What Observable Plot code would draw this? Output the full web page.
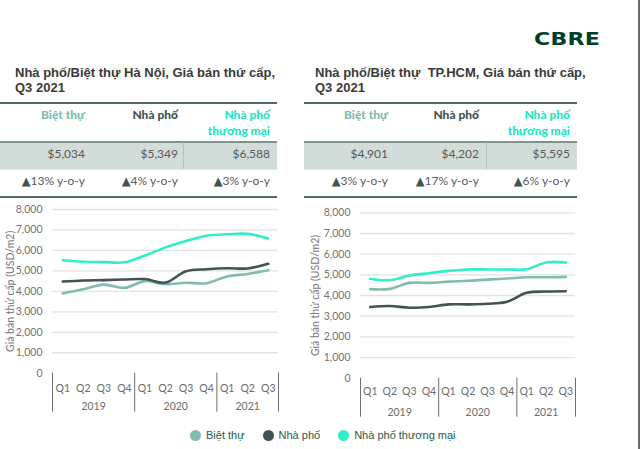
<!DOCTYPE html>
<html><head><meta charset="utf-8">
<script src="https://cdn.jsdelivr.net/npm/d3@7"></script>
<script src="https://cdn.jsdelivr.net/npm/@observablehq/plot@0.6"></script>
<style>
body{margin:0;background:#fff;}
#root{position:relative;width:640px;height:449px;overflow:hidden;background:#fff;font-family:Lato,"Open Sans",sans-serif;}
.abs{position:absolute;}
.title{font-family:"Liberation Sans",Arial,sans-serif;font-weight:bold;font-size:13px;line-height:15px;color:#3a3a3a;white-space:pre;}
.hdr{font-family:Lato,sans-serif;font-weight:900;font-size:12px;line-height:15.5px;text-align:right;width:72px;}
.val{font-family:Lato,sans-serif;font-size:12px;color:#5a5a5a;text-align:right;width:80px;line-height:14px;}
.yoy{font-family:Lato,sans-serif;font-size:12px;color:#5a5a5a;text-align:right;width:80px;line-height:14px;white-space:nowrap;}
.tri{color:#435254;font-family:"DejaVu Sans",sans-serif;font-size:11.5px;}
.legend{font-family:"Liberation Sans",Arial,sans-serif;font-size:11px;color:#245a4c;display:flex;align-items:center;}
.dot{width:11px;height:11px;border-radius:50%;display:inline-block;margin-right:5px;}
</style></head>
<body><div id="root"></div>
<script>
// ---------- data ----------
const seriesNames = ["Biệt thự", "Nhà phố", "Nhà phố thương mại"];
const seriesColors = ["#80bbad", "#435254", "#2eefc8"];
const headerColors = ["#80bbad", "#435254", "#1fe6c0"];
const quarters = ["Q1","Q2","Q3","Q4","Q1","Q2","Q3","Q4","Q1","Q2","Q3"];
const quarterYears = ["2019","2019","2019","2019","2020","2020","2020","2020","2021","2021","2021"];
const yearLabels = ["2019","2020","2021"];
const yTicks = [0,1000,2000,3000,4000,5000,6000,7000,8000];
const axisTitle = "Giá bán thứ cấp (USD/m2)";

const hanoiTitle = ["Nhà phố/Biệt thự Hà Nội, Giá bán thứ cấp,", "Q3 2021"];
const hanoiBietThu = [3900,4100,4330,4170,4500,4350,4420,4400,4730,4850,5034];
const hanoiNhaPho   = [4480,4530,4550,4580,4600,4430,4980,5080,5130,5120,5349];
const hanoiThuongMai= [5520,5450,5430,5420,5750,6150,6460,6720,6790,6810,6588];
const hanoiPrices = ["$5,034","$5,349","$6,588"];
const hanoiYoY = ["13% y-o-y","4% y-o-y","3% y-o-y"];

const hcmTitle = ["Nhà phố/Biệt thự  TP.HCM, Giá bán thứ cấp,", "Q3 2021"];
const hcmBietThu = [4310,4320,4610,4610,4670,4710,4770,4820,4880,4880,4901];
const hcmNhaPho   = [3440,3490,3410,3440,3570,3570,3600,3700,4130,4190,4202];
const hcmThuongMai= [4810,4740,4970,5080,5190,5260,5260,5260,5270,5600,5595];
const hcmPrices = ["$4,901","$4,202","$5,595"];
const hcmYoY = ["3% y-o-y","17% y-o-y","6% y-o-y"];

// ---------- layout helpers ----------
const root = document.getElementById("root");
function add(tag, cls, style, html) {
  const e = document.createElement(tag);
  if (cls) e.className = cls;
  Object.assign(e.style, style);
  if (html !== undefined) e.innerHTML = html;
  root.appendChild(e);
  return e;
}

// logo
add("div", "abs", {left:"534px", top:"29px", fontFamily:"'DejaVu Sans',sans-serif", fontWeight:"bold", fontSize:"17px", color:"#003f2d", transform:"scaleX(1.3)", transformOrigin:"left top", letterSpacing:"0.2px"}, "CBRE");
// right border
add("div", "abs", {left:"638px", top:"0px", width:"2px", height:"449px", background:"#6a6a6a"});

function panel(opt) {
  add("div", "abs title", {left: opt.titleX + "px", top: "65px"}, opt.title.join("\n"));
  const x0 = opt.x0, x1 = opt.x1;
  add("div", "abs", {left:x0+"px", top:"101.5px", width:(x1-x0)+"px", height:"2px", background:"#51695f"});
  add("div", "abs", {left:x0+"px", top:"141px", width:(x1-x0)+"px", height:"28px", background:"#d2dcd8"});
  add("div", "abs", {left:x0+"px", top:"141px", width:(x1-x0)+"px", height:"1.5px", background:"#7d928b"});
  add("div", "abs", {left:x0+"px", top:"168.5px", width:(x1-x0)+"px", height:"1px", background:"#e2e8e6"});
  add("div", "abs", {left:opt.divX+"px", top:"142px", width:"1px", height:"27px", background:"#b5c3bf"});
  add("div", "abs", {left:x0+"px", top:"195.5px", width:(x1-x0)+"px", height:"2px", background:"#51695f"});
  seriesNames.forEach((name, k) => {
    const r = opt.cols[k];
    add("div", "abs hdr", {left:(r-72)+"px", top:"107px", color:headerColors[k]}, name);
    add("div", "abs val", {left:(r-80)+"px", top:"147px"}, opt.prices[k]);
    add("div", "abs yoy", {left:(r-80)+"px", top:"174px"}, '<span class="tri">▲</span>' + opt.yoy[k]);
  });

  const data = [opt.series[0], opt.series[1], opt.series[2]].flatMap((vals, s) => vals.map((v, i) => ({i, v, s: seriesNames[s]})));
  const yearIdx = yearLabels.map(y => quarterYears.map((yy, i) => yy === y ? i : -1).filter(i => i >= 0));
  const yearCenters = yearIdx.map(a => d3.mean(a));
  const bounds = [-0.5, ...yearIdx.map(a => d3.max(a) + 0.5)];
  const W = opt.width, H = opt.height;
  const svg = Plot.plot({
    width: W, height: H,
    marginLeft: opt.mL, marginRight: opt.mR, marginTop: opt.mT, marginBottom: opt.mB,
    style: {background:"transparent", fontFamily:"Lato, sans-serif", fontSize:"10.5px", color:"#6b6b6b", overflow:"visible"},
    x: {domain: [-0.5, quarters.length - 0.5], axis: null},
    y: {domain: [0, 8000], axis: null},
    color: {domain: seriesNames, range: seriesColors},
    marks: [
      Plot.gridY({ticks: yTicks.filter(d => d > 0), stroke: "#e2e2e2", strokeOpacity: 1, strokeWidth: 1.3}),
      Plot.axisY({ticks: yTicks, tickSize: 0, tickPadding: 10, tickFormat: d3.format(","), label: null, fill: "#727272"}),
      Plot.ruleX(bounds, {x: d => d, stroke: "#6f6f6f", strokeWidth: 1, insetTop: H - opt.mT - opt.mB, insetBottom: -39}),
      Plot.text(quarters, {x: (d, i) => i, y: () => 0, dy: opt.qdy, text: d => d, fill: "#6b6b6b"}),
      Plot.text(yearLabels, {x: (d, i) => yearCenters[i], y: () => 0, dy: opt.ydy, text: d => d, fill: "#6b6b6b"}),
      Plot.text([axisTitle], {frameAnchor: "left", textAnchor: "middle", rotate: -90, dx: -(opt.mL - opt.titleCx), text: d => d, fill: "#777", fontSize: 10.5}),
      Plot.line(data, {x: "i", y: "v", stroke: "s", strokeWidth: 2.6, curve: "catmull-rom"})
    ]
  });
  svg.style.position = "absolute";
  svg.style.left = opt.left + "px";
  svg.style.top = opt.top + "px";
  root.appendChild(svg);
}

panel({title: hanoiTitle, titleX: 15, x0: 0, x1: 277, cols: [85, 178, 270], divX: 183,
  prices: hanoiPrices, yoy: hanoiYoY, series: [hanoiBietThu, hanoiNhaPho, hanoiThuongMai],
  left: 0, top: 195, width: 290, height: 230, mL: 52, mR: 12, mT: 14, mB: 52.3, qdy: 15, ydy: 33, titleCx: 10});
panel({title: hcmTitle, titleX: 315, x0: 304, x1: 577, cols: [388, 479, 570], divX: 486,
  prices: hcmPrices, yoy: hcmYoY, series: [hcmBietThu, hcmNhaPho, hcmThuongMai],
  left: 300, top: 195, width: 290, height: 230, mL: 60, mR: 15, mT: 17.3, mB: 47.3, qdy: 13, ydy: 34, titleCx: 15});

// legend
const lg = add("div", "abs legend", {left: "190px", top: "429px"});
seriesNames.forEach((name, k) => {
  const item = document.createElement("span");
  item.style.display = "inline-flex"; item.style.alignItems = "center";
  item.style.marginRight = k < 2 ? "18px" : "0";
  item.innerHTML = `<span class="dot" style="background:${seriesColors[k]}"></span>${name}`;
  lg.appendChild(item);
});
</script></body></html>
